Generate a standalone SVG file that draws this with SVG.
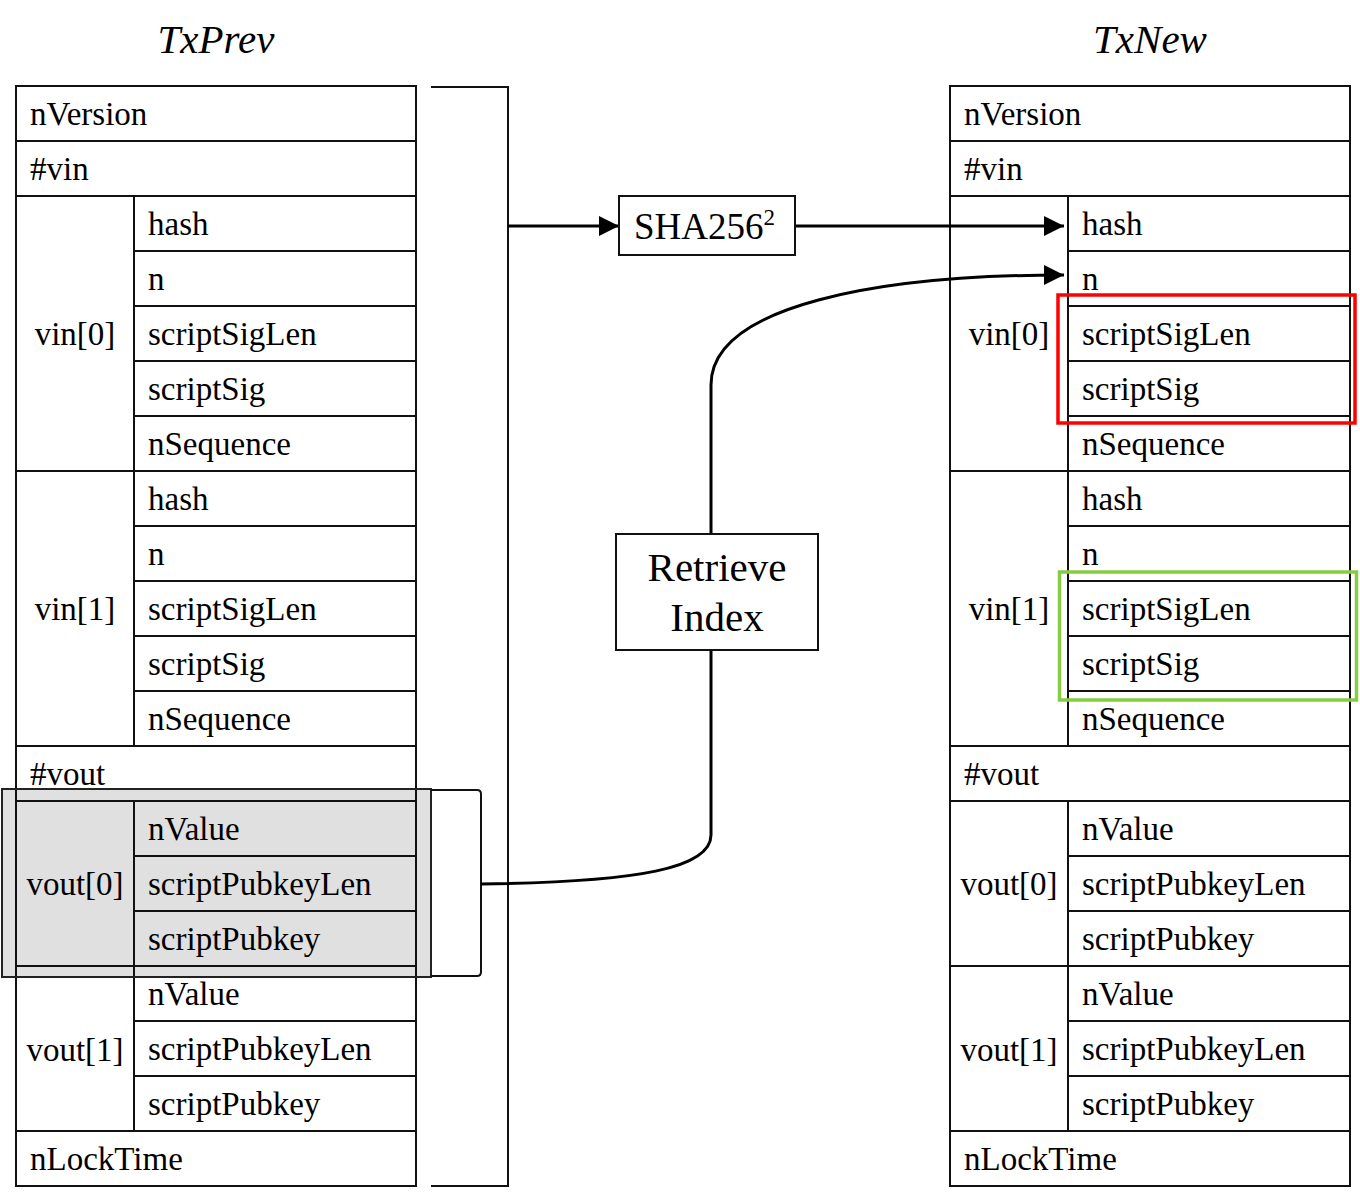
<svg xmlns="http://www.w3.org/2000/svg" width="1360" height="1200" viewBox="0 0 1360 1200">
<style>
text{font-family:"Liberation Serif","Times New Roman",serif;fill:#000}
.t{font-size:33px}
.title{font-size:41px;font-style:italic}
.cell{fill:#fff;stroke:#111;stroke-width:2}
.ln{stroke:#111;stroke-width:2;fill:none}
.con{stroke:#000;stroke-width:3;fill:none}
.box{fill:#fff;stroke:#111;stroke-width:2}
</style>
<defs>
<marker id="arr" viewBox="0 0 20 20" refX="20" refY="10" markerWidth="20" markerHeight="20" markerUnits="userSpaceOnUse" orient="auto">
<path d="M0,0 L20,10 L0,20 z" fill="#000"/>
</marker>
</defs>

<text class="title" x="216" y="53" text-anchor="middle">TxPrev</text>
<text class="title" x="1150" y="53" text-anchor="middle">TxNew</text>

<g id="txprev">
<rect class="cell" x="16" y="86" width="400" height="1100"/>
<rect id="vout0-fill" x="2" y="789" width="429" height="188" fill="#e0e0e0"/>
<path class="ln" d="M16,86V1186 M416,86V1186 M16,141H416 M16,196H416 M134,251H416 M134,306H416 M134,361H416 M134,416H416 M16,471H416 M134,526H416 M134,581H416 M134,636H416 M134,691H416 M16,746H416 M16,801H416 M134,856H416 M134,911H416 M16,966H416 M134,1021H416 M134,1076H416 M16,1131H416 M134,196V746 M134,801V1131"/>
<text class="t" x="30" y="125">nVersion</text>
<text class="t" x="30" y="180">#vin</text>
<text class="t" x="148" y="235">hash</text>
<text class="t" x="148" y="290">n</text>
<text class="t" x="148" y="345">scriptSigLen</text>
<text class="t" x="148" y="400">scriptSig</text>
<text class="t" x="148" y="455">nSequence</text>
<text class="t" x="148" y="510">hash</text>
<text class="t" x="148" y="565">n</text>
<text class="t" x="148" y="620">scriptSigLen</text>
<text class="t" x="148" y="675">scriptSig</text>
<text class="t" x="148" y="730">nSequence</text>
<text class="t" x="30" y="785">#vout</text>
<text class="t" x="148" y="840">nValue</text>
<text class="t" x="148" y="895">scriptPubkeyLen</text>
<text class="t" x="148" y="950">scriptPubkey</text>
<text class="t" x="148" y="1005">nValue</text>
<text class="t" x="148" y="1060">scriptPubkeyLen</text>
<text class="t" x="148" y="1115">scriptPubkey</text>
<text class="t" x="30" y="1170">nLockTime</text>
<text class="t" x="75" y="345" text-anchor="middle">vin[0]</text>
<text class="t" x="75" y="620" text-anchor="middle">vin[1]</text>
<text class="t" x="75" y="895" text-anchor="middle">vout[0]</text>
<text class="t" x="75" y="1061" text-anchor="middle">vout[1]</text>
</g>

<g id="vout0-highlight">
<rect x="2" y="789" width="429" height="188" fill="none" stroke="#222" stroke-width="2"/>
</g>

<g id="txnew">
<rect class="cell" x="950" y="86" width="400" height="1100"/>
<path class="ln" d="M950,141H1350 M950,196H1350 M1068,251H1350 M1068,306H1350 M1068,361H1350 M1068,416H1350 M950,471H1350 M1068,526H1350 M1068,581H1350 M1068,636H1350 M1068,691H1350 M950,746H1350 M950,801H1350 M1068,856H1350 M1068,911H1350 M950,966H1350 M1068,1021H1350 M1068,1076H1350 M950,1131H1350 M1068,196V746 M1068,801V1131"/>
<text class="t" x="964" y="125">nVersion</text>
<text class="t" x="964" y="180">#vin</text>
<text class="t" x="1082" y="235">hash</text>
<text class="t" x="1082" y="290">n</text>
<text class="t" x="1082" y="345">scriptSigLen</text>
<text class="t" x="1082" y="400">scriptSig</text>
<text class="t" x="1082" y="455">nSequence</text>
<text class="t" x="1082" y="510">hash</text>
<text class="t" x="1082" y="565">n</text>
<text class="t" x="1082" y="620">scriptSigLen</text>
<text class="t" x="1082" y="675">scriptSig</text>
<text class="t" x="1082" y="730">nSequence</text>
<text class="t" x="964" y="785">#vout</text>
<text class="t" x="1082" y="840">nValue</text>
<text class="t" x="1082" y="895">scriptPubkeyLen</text>
<text class="t" x="1082" y="950">scriptPubkey</text>
<text class="t" x="1082" y="1005">nValue</text>
<text class="t" x="1082" y="1060">scriptPubkeyLen</text>
<text class="t" x="1082" y="1115">scriptPubkey</text>
<text class="t" x="964" y="1170">nLockTime</text>
<text class="t" x="1009" y="345" text-anchor="middle">vin[0]</text>
<text class="t" x="1009" y="620" text-anchor="middle">vin[1]</text>
<text class="t" x="1009" y="895" text-anchor="middle">vout[0]</text>
<text class="t" x="1009" y="1061" text-anchor="middle">vout[1]</text>
</g>

<g id="red-highlight">
<rect x="1058" y="295" width="297" height="128" fill="none" stroke="#ff0000" stroke-width="3.5"/>
</g>
<g id="green-highlight">
<rect x="1059.5" y="572" width="297" height="128" fill="none" stroke="#88cc44" stroke-width="3.5"/>
</g>

<g id="connectors">
<path class="ln" d="M431,87H508V1186H431" stroke-width="2.5"/>
<path class="ln" d="M431,790H477Q481,790 481,794V972Q481,976 477,976H431" stroke-width="2"/>
<path class="con" d="M508,226H619" marker-end="url(#arr)"/>
<path class="con" d="M795,226H1064" marker-end="url(#arr)"/>
<path class="con" d="M481,884C640,882 711,868 711,835V385C711,305 880,275 1064,275" marker-end="url(#arr)"/>
</g>

<g id="sha">
<rect class="box" x="619" y="196" width="176" height="59"/>
<text x="634" y="239" font-size="37">SHA256<tspan font-size="23" dy="-14">2</tspan></text>
</g>

<g id="retrieve">
<rect class="box" x="616" y="534" width="202" height="116"/>
<text x="717" y="581" font-size="41" text-anchor="middle">Retrieve</text>
<text x="717" y="631" font-size="41" text-anchor="middle">Index</text>
</g>
</svg>
